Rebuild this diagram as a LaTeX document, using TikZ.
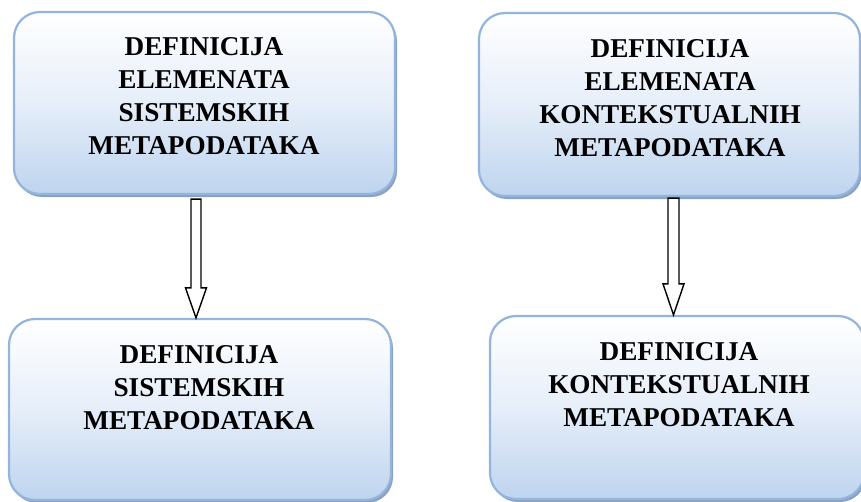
\documentclass[tikz,border=0pt]{standalone}
\usepackage{fontspec}
\setmainfont{Liberation Serif}
\usetikzlibrary{shadows,calc}
\definecolor{boxedge}{HTML}{93B4DD}
\definecolor{boxlow}{HTML}{BED4EE}
\definecolor{boxmid}{HTML}{E6EEF9}
\definecolor{boxshade}{HTML}{8AA2C2}
\newcommand{\stacklines}[1]{{\setlength{\tabcolsep}{0pt}\begin{tabular}[t]{c}#1\end{tabular}}}
\tikzset{
  box/.style={draw=boxedge, line width=2.2pt, rounded corners=26pt,
    top color=white, bottom color=boxlow, middle color=boxmid,
    drop shadow={shadow xshift=2pt, shadow yshift=-3pt, fill=boxshade, opacity=1},
    inner sep=0pt},
  label text/.style={anchor=base, inner sep=0pt,
    font=\fontsize{27.2}{33}\selectfont\bfseries},
  blockarrow/.style={draw=black, fill=white, line width=1.4pt, line join=miter}
}
\begin{document}
\begin{tikzpicture}[x=1pt,y=-1pt]
\useasboundingbox (0,0) rectangle (861,501);

% the four boxes
\node[box, minimum width=381pt, minimum height=182pt] (b1) at (204.5,103) {};
\node[box, minimum width=382pt, minimum height=181pt] (b2) at (200,409.5) {};
\node[box, minimum width=381pt, minimum height=183pt] (b3) at (669.5,104.5) {};
\node[box, minimum width=374pt, minimum height=183pt] (b4) at (677,407.5) {};

% box captions (anchored at the baseline of the first line)
\node[label text] (t1) at (204,55) {\stacklines{DEFINICIJA\\ELEMENATA\\SISTEMSKIH\\METAPODATAKA}};
\node[label text] (t2) at (199,363) {\stacklines{DEFINICIJA\\SISTEMSKIH\\METAPODATAKA}};
\node[label text] (t3) at (670,57) {\stacklines{DEFINICIJA\\ELEMENATA\\KONTEKSTUALNIH\\METAPODATAKA}};
\node[label text] (t4) at (679,360) {\stacklines{DEFINICIJA\\KONTEKSTUALNIH\\METAPODATAKA}};

% hollow block arrows between the boxes
\coordinate (s1) at ($(b1.south)+(-8.5,4)$);
\coordinate (e1) at (s1 |- b2.north);
\coordinate (s2) at ($(b3.south)+(4,1)$);
\coordinate (e2) at (s2 |- b4.north);

\draw[blockarrow] let \p1=(s1), \p2=(e1) in
  (\x1-5pt,\y1) -- (\x1+5pt,\y1) -- (\x1+5pt,\y2+30pt) -- (\x1+10.5pt,\y2+30pt)
  -- (\x1,\y2) -- (\x1-10.5pt,\y2+30pt) -- (\x1-5pt,\y2+30pt) -- cycle;
\draw[blockarrow] let \p1=(s2), \p2=(e2) in
  (\x1-5.5pt,\y1) -- (\x1+5.5pt,\y1) -- (\x1+5.5pt,\y2+31pt) -- (\x1+10.5pt,\y2+31pt)
  -- (\x1,\y2) -- (\x1-10.5pt,\y2+31pt) -- (\x1-5.5pt,\y2+31pt) -- cycle;
\end{tikzpicture}
\end{document}
